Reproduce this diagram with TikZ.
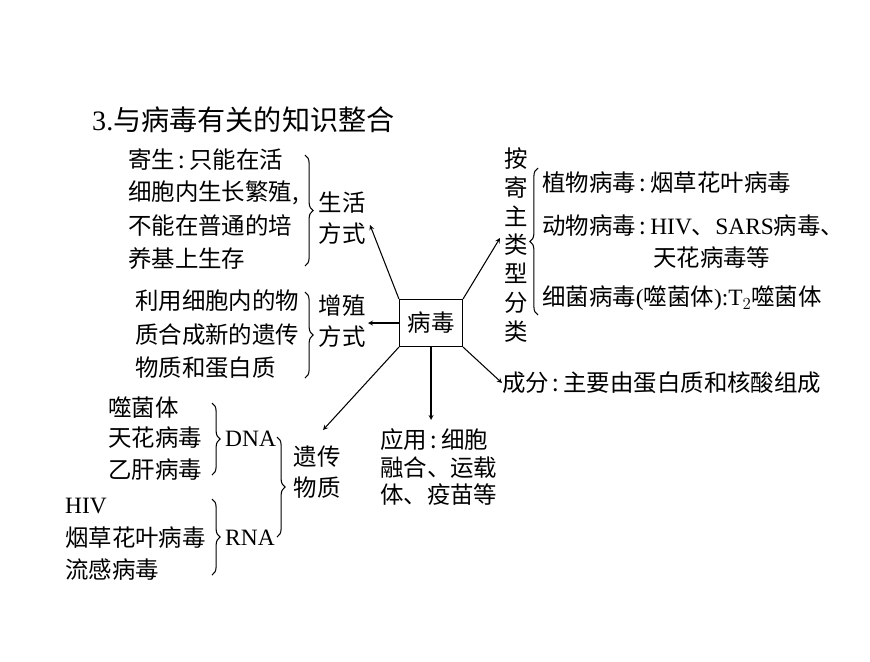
\documentclass[tikz,border=0pt]{standalone}
\usepackage{fontspec}
\setmainfont{Noto Sans CJK SC}
\newfontfamily\latn{Liberation Serif}
\newcommand{\en}[1]{{\latn #1}}
\usetikzlibrary{positioning}
\usetikzlibrary{decorations.pathreplacing}
\tikzset{
  txt/.style={anchor=west, inner sep=0pt, font=\fontsize{20}{25}\selectfont},
  lbl/.style={align=left, inner sep=1pt, font=\fontsize{20}{26}\selectfont},
  brc/.style={decorate, decoration={brace, amplitude=7pt}, line width=0.9pt},
  arr/.style={->, >=stealth, line width=0.9pt},
}
\begin{document}
\begin{tikzpicture}[x=0.03cm, y=-0.03cm]
        \useasboundingbox (0,0) rectangle (870,661);
        % title %
        \node[txt, font=\fontsize{24}{28}\selectfont] (title) at (92,120) {\en{3.}与病毒有关的知识整合};
        % center %
        \node[draw, line width=1pt, minimum width=63*0.03cm, minimum height=47*0.03cm,
              font=\fontsize{20}{24}\selectfont] (v) at (431,323) {病毒};
        % life %
        \node[txt] (l1) at (128,160) {寄生\,:\,只能在活};
        \node[txt] (l2) at (128,193) {细胞内生长繁殖,};
        \node[txt] (l3) at (128,226) {不能在普通的培};
        \node[txt] (l4) at (128,259) {养基上生存};
        \draw[brc] (305,155) -- (305,266);
        \node[lbl] (life) at (342,218) {生活\\方式};
        % reproduce %
        \node[txt] (r1) at (135,301) {利用细胞内的物};
        \node[txt] (r2) at (135,335) {质合成新的遗传};
        \node[txt] (r3) at (135,368) {物质和蛋白质};
        \draw[brc] (305,292) -- (305,378);
        \node[lbl] (repr) at (342,321) {增殖\\方式};
        % genetic %
        \node[txt] (d1) at (108,408) {噬菌体};
        \node[txt] (d2) at (108,438) {天花病毒};
        \node[txt] (d3) at (108,470) {乙肝病毒};
        \draw[brc] (212,403) -- (212,475);
        \node[txt] (dna) at (225,439) {\en{DNA}};
        \node[txt] (n1) at (65,506) {\en{HIV}};
        \node[txt] (n2) at (65,538) {烟草花叶病毒};
        \node[txt] (n3) at (65,570) {流感病毒};
        \draw[brc] (212,499) -- (212,575);
        \node[txt] (rna) at (225,538) {\en{RNA}};
        \draw[brc] (277,437) -- (277,537);
        \node[lbl] (gen) at (317,472) {遗传\\物质};
        % use %
        \node[txt] (u1) at (380,440) {应用\,:\,细胞};
        \node[txt] (u2) at (380,468) {融合、运载};
        \node[txt] (u3) at (380,495) {体、疫苗等};
        % component %
        \node[txt] (comp) at (502,383) {成分\,:\,主要由蛋白质和核酸组成};
        % host %
        \node[lbl, align=center, font=\fontsize{20}{24.5}\selectfont] (host) at (516,245) {按\\寄\\主\\类\\型\\分\\类};
        \draw[brc] (538,315) -- (538,168);
        \node[txt] (h1) at (542,183) {植物病毒\,:\,烟草花叶病毒};
        \node[txt] (h2) at (542,226) {动物病毒\,:\,\en{HIV}、\en{SARS}病毒、};
        \node[txt] (h3) at (653,258) {天花病毒等};
        \node[txt] (h4) at (542,298) {细菌病毒\en{(}噬菌体\en{):T$_2$}噬菌体};
        % arrows %
        \draw[arr] (v.north west) -- (370,225);
        \draw[arr] (v.west) -- (368,323);
        \draw[arr] (v.south west) -- (323,430);
        \draw[arr] (v.south) -- (431,420);
        \draw[arr] (v.south east) -- (comp.west);
        \draw[arr] (v.north east) -- (500,238);
\end{tikzpicture}
\end{document}
